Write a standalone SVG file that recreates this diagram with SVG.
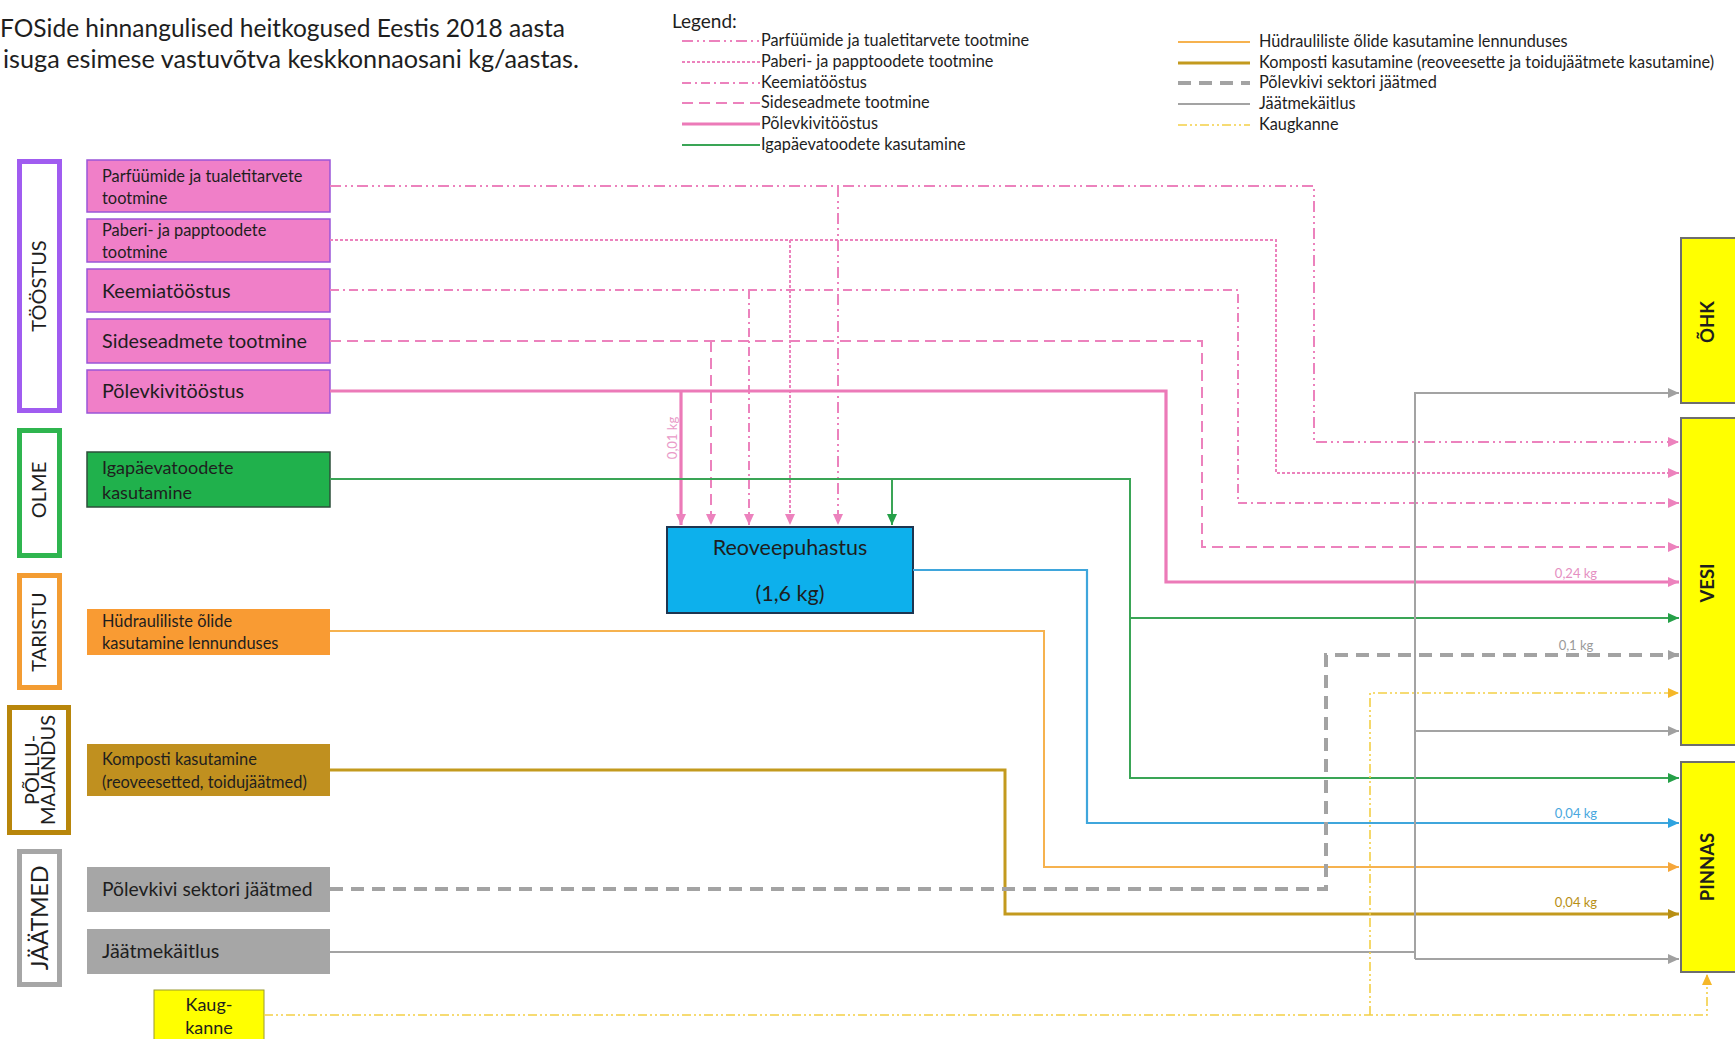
<svg xmlns="http://www.w3.org/2000/svg" width="1735" height="1039" viewBox="0 0 1735 1039">
  <style>
    text { font-family: Lato, "Liberation Sans", sans-serif; fill: #1e1e1e; }
    .title { font-size: 24.5px; }
    .leg { font-size: 16.3px; }
    .small { font-size: 16.4px; }
    .big { font-size: 19.8px; }
    .cat { font-size: 20px; text-anchor: middle; }
    .tgt { font-size: 18.5px; font-weight: bold; text-anchor: middle; }
    .val { font-size: 13px; text-anchor: middle; }
    .frame { fill: #ffffff; stroke-width: 5; }
    .ln { fill: none; }
    .pink { stroke: #ec82bd; stroke-width: 2; }
    .pinkthick { stroke: #ec7ab8; stroke-width: 3.2; }
    .d1 { stroke-dasharray: 11 4 2 4 2 4; }
    .d2 { stroke-dasharray: 3 2; }
    .d3 { stroke-dasharray: 9 4 2 4; }
    .d4 { stroke-dasharray: 11 6; }
    .green { stroke: #3aa556; stroke-width: 2; }
    .blue { stroke: #3fa6dc; stroke-width: 2.2; }
    .orange { stroke: #f6b24f; stroke-width: 2; }
    .gold { stroke: #c39a1e; stroke-width: 3; }
    .grayd { stroke: #a3a3a3; stroke-width: 4; stroke-dasharray: 13 8; }
    .gray { stroke: #a3a3a3; stroke-width: 2; }
    .yel { stroke: #f3cf45; stroke-width: 1.6; stroke-dasharray: 9 3 2 3 2 3; }
  </style>
  <defs>
    <marker id="aPink" markerUnits="userSpaceOnUse" markerWidth="11" markerHeight="10" refX="11" refY="5" orient="auto"><path d="M0,0 L11,5 L0,10 z" fill="#ec82bd"/></marker>
    <marker id="aGreen" markerUnits="userSpaceOnUse" markerWidth="11" markerHeight="10" refX="11" refY="5" orient="auto"><path d="M0,0 L11,5 L0,10 z" fill="#25a048"/></marker>
    <marker id="aBlue" markerUnits="userSpaceOnUse" markerWidth="11" markerHeight="10" refX="11" refY="5" orient="auto"><path d="M0,0 L11,5 L0,10 z" fill="#2ea3e0"/></marker>
    <marker id="aOrange" markerUnits="userSpaceOnUse" markerWidth="11" markerHeight="10" refX="11" refY="5" orient="auto"><path d="M0,0 L11,5 L0,10 z" fill="#f5a63a"/></marker>
    <marker id="aGold" markerUnits="userSpaceOnUse" markerWidth="11" markerHeight="10" refX="11" refY="5" orient="auto"><path d="M0,0 L11,5 L0,10 z" fill="#b88f14"/></marker>
    <marker id="aGray" markerUnits="userSpaceOnUse" markerWidth="11" markerHeight="10" refX="11" refY="5" orient="auto"><path d="M0,0 L11,5 L0,10 z" fill="#a0a0a0"/></marker>
    <marker id="aYel" markerUnits="userSpaceOnUse" markerWidth="11" markerHeight="10" refX="11" refY="5" orient="auto"><path d="M0,0 L11,5 L0,10 z" fill="#f5b728"/></marker>
  </defs>

  <rect width="1735" height="1039" fill="#ffffff"/>

  <!-- heading -->
  <text class="title" x="0" y="37" textLength="565" lengthAdjust="spacingAndGlyphs">FOSide hinnangulised heitkogused Eestis 2018 aasta</text>
  <text class="title" x="3" y="68" textLength="576" lengthAdjust="spacingAndGlyphs">isuga esimese vastuvõtva keskkonnaosani kg/aastas.</text>

  <!-- legend -->
  <g id="legend">
    <text x="672" y="28" style="font-size:19px">Legend:</text>
    <line class="ln pink d1" x1="682" y1="41" x2="760" y2="41"/>
    <text class="leg" x="761" y="46">Parfüümide ja tualetitarvete tootmine</text>
    <line class="ln pink d2" x1="682" y1="62" x2="760" y2="62"/>
    <text class="leg" x="761" y="67">Paberi- ja papptoodete tootmine</text>
    <line class="ln pink d3" x1="682" y1="83" x2="760" y2="83"/>
    <text class="leg" x="761" y="88">Keemiatööstus</text>
    <line class="ln pink d4" x1="682" y1="103" x2="760" y2="103"/>
    <text class="leg" x="761" y="108">Sideseadmete tootmine</text>
    <line class="ln pinkthick" x1="682" y1="124" x2="760" y2="124"/>
    <text class="leg" x="761" y="129">Põlevkivitööstus</text>
    <line class="ln green" x1="682" y1="145" x2="760" y2="145"/>
    <text class="leg" x="761" y="150">Igapäevatoodete kasutamine</text>

    <line class="ln orange" x1="1178" y1="42" x2="1250" y2="42"/>
    <text class="leg" x="1259" y="47">Hüdrauliliste õlide kasutamine lennunduses</text>
    <line class="ln gold" x1="1178" y1="63" x2="1250" y2="63"/>
    <text class="leg" x="1259" y="68">Komposti kasutamine (reoveesette ja toidujäätmete kasutamine)</text>
    <line class="ln grayd" x1="1178" y1="83" x2="1250" y2="83"/>
    <text class="leg" x="1259" y="88">Põlevkivi sektori jäätmed</text>
    <line class="ln gray" x1="1178" y1="104" x2="1250" y2="104"/>
    <text class="leg" x="1259" y="109">Jäätmekäitlus</text>
    <line class="ln yel" x1="1178" y1="125" x2="1250" y2="125"/>
    <text class="leg" x="1259" y="130">Kaugkanne</text>
  </g>

  <!-- sector frames -->
  <g id="cat-toostus">
    <rect class="frame" x="19.5" y="161.5" width="40" height="249" stroke="#a05cf0"/>
    <text class="cat" transform="translate(46,286) rotate(-90)">TÖÖSTUS</text>
  </g>
  <g id="cat-olme">
    <rect class="frame" x="19.5" y="430.5" width="40" height="125" stroke="#2fb54f"/>
    <text class="cat" transform="translate(46,490) rotate(-90)">OLME</text>
  </g>
  <g id="cat-taristu">
    <rect class="frame" x="19.5" y="575.5" width="40" height="112" stroke="#f39c32"/>
    <text class="cat" transform="translate(46,632) rotate(-90)">TARISTU</text>
  </g>
  <g id="cat-pollumajandus">
    <rect class="frame" x="9.5" y="707.5" width="59" height="125" stroke="#b8860b"/>
    <text class="cat" transform="translate(39,770) rotate(-90)">PÕLLU-</text>
    <text class="cat" transform="translate(55,770) rotate(-90)">MAJANDUS</text>
  </g>
  <g id="cat-jaatmed">
    <rect class="frame" x="19.5" y="851.5" width="40" height="133" stroke="#a6a6a6"/>
    <text class="cat" style="font-size:23px" transform="translate(48,918) rotate(-90)">JÄÄTMED</text>
  </g>

  <!-- source boxes -->
  <g id="src-parfuumid">
    <rect x="87" y="160" width="243" height="52" fill="#f07fc8" stroke="#9a55d8" stroke-width="1.5"/>
    <text class="small" x="102" y="182">Parfüümide ja tualetitarvete</text>
    <text class="small" x="102" y="204">tootmine</text>
  </g>
  <g id="src-paber">
    <rect x="87" y="219" width="243" height="43" fill="#f07fc8" stroke="#9a55d8" stroke-width="1.5"/>
    <text class="small" x="102" y="236">Paberi- ja papptoodete</text>
    <text class="small" x="102" y="258">tootmine</text>
  </g>
  <g id="src-keemia">
    <rect x="87" y="269" width="243" height="43" fill="#f07fc8" stroke="#9a55d8" stroke-width="1.5"/>
    <text class="big" x="102" y="298">Keemiatööstus</text>
  </g>
  <g id="src-sideseadmed">
    <rect x="87" y="319" width="243" height="44" fill="#f07fc8" stroke="#9a55d8" stroke-width="1.5"/>
    <text class="big" x="102" y="348">Sideseadmete tootmine</text>
  </g>
  <g id="src-polevkivi">
    <rect x="87" y="370" width="243" height="43" fill="#f07fc8" stroke="#9a55d8" stroke-width="1.5"/>
    <text class="big" x="102" y="398">Põlevkivitööstus</text>
  </g>
  <g id="src-igapaev">
    <rect x="87" y="452" width="243" height="55" fill="#20b14c" stroke="#2d4f3a" stroke-width="1.5"/>
    <text x="102" y="474" style="font-size:18px">Igapäevatoodete</text>
    <text x="102" y="499" style="font-size:18px">kasutamine</text>
  </g>
  <g id="src-hudraulika">
    <rect x="87" y="609" width="243" height="46" fill="#f99b33"/>
    <text class="small" x="102" y="627">Hüdrauliliste õlide</text>
    <text class="small" x="102" y="649">kasutamine lennunduses</text>
  </g>
  <g id="src-kompost">
    <rect x="87" y="744" width="243" height="52" fill="#c0901f"/>
    <text class="small" x="102" y="765">Komposti kasutamine</text>
    <text class="small" x="102" y="788">(reoveesetted, toidujäätmed)</text>
  </g>
  <g id="src-polevkivi-jaatmed">
    <rect x="87" y="867" width="243" height="45" fill="#a6a6a6"/>
    <text class="big" x="102" y="896" style="font-size:19.3px">Põlevkivi sektori jäätmed</text>
  </g>
  <g id="src-jaatmekaitlus">
    <rect x="87" y="929" width="243" height="45" fill="#a6a6a6"/>
    <text class="big" x="102" y="958">Jäätmekäitlus</text>
  </g>
  <g id="src-kaugkanne">
    <rect x="154" y="990" width="110" height="60" fill="#ffff00" stroke="#9a9a30" stroke-width="1"/>
    <text x="209" y="1011" style="font-size:18px;text-anchor:middle">Kaug-</text>
    <text x="209" y="1034" style="font-size:18px;text-anchor:middle">kanne</text>
  </g>

  <!-- wastewater treatment -->
  <g id="reoveepuhastus">
    <rect x="667" y="527" width="246" height="86" fill="#0db0ec" stroke="#1d3550" stroke-width="2"/>
    <text x="790" y="555" style="font-size:21.5px;text-anchor:middle">Reoveepuhastus</text>
    <text x="790" y="601" style="font-size:21.5px;text-anchor:middle">(1,6 kg)</text>
  </g>

  <!-- receiving compartments -->
  <g id="tgt-ohk">
    <rect x="1681" y="238" width="70" height="165" fill="#ffff00" stroke="#6e6e6e" stroke-width="2"/>
    <text class="tgt" transform="translate(1714,322) rotate(-90)">ÕHK</text>
  </g>
  <g id="tgt-vesi">
    <rect x="1681" y="418" width="70" height="327" fill="#ffff00" stroke="#6e6e6e" stroke-width="2"/>
    <text class="tgt" transform="translate(1714,583) rotate(-90)">VESI</text>
  </g>
  <g id="tgt-pinnas">
    <rect x="1681" y="762" width="70" height="210" fill="#ffff00" stroke="#6e6e6e" stroke-width="2"/>
    <text class="tgt" transform="translate(1714,867) rotate(-90)">PINNAS</text>
  </g>

  <!-- connectors -->
  <g id="connectors">
    <!-- perfumes and toiletries -->
    <path class="ln pink d1" d="M330,186 H1314 V442 H1679" marker-end="url(#aPink)"/>
    <path class="ln pink d1" d="M838,186 V525" marker-end="url(#aPink)"/>
    <!-- paper and cardboard -->
    <path class="ln pink d2" d="M330,240 H1276 V473 H1679" marker-end="url(#aPink)"/>
    <path class="ln pink d2" d="M790,240 V525" marker-end="url(#aPink)"/>
    <!-- chemical industry -->
    <path class="ln pink d3" d="M330,290 H1238 V503 H1679" marker-end="url(#aPink)"/>
    <path class="ln pink d3" d="M749,290 V525" marker-end="url(#aPink)"/>
    <!-- communication equipment -->
    <path class="ln pink d4" d="M330,341 H1202 V547 H1679" marker-end="url(#aPink)"/>
    <path class="ln pink d4" d="M711,341 V525" marker-end="url(#aPink)"/>
    <!-- oil shale industry -->
    <path class="ln pinkthick" d="M330,391 H1166 V582 H1679" marker-end="url(#aPink)"/>
    <path class="ln pinkthick" d="M681,391 V525" marker-end="url(#aPink)"/>
    <!-- everyday products -->
    <path class="ln green" d="M330,479 H1130 V778 H1679" marker-end="url(#aGreen)"/>
    <path class="ln green" d="M1130,618 H1679" marker-end="url(#aGreen)"/>
    <path class="ln green" d="M892,479 V525" marker-end="url(#aGreen)"/>
    <!-- treatment plant outflow -->
    <path class="ln blue" d="M913,570 H1087 V823 H1679" marker-end="url(#aBlue)"/>
    <!-- hydraulic oils -->
    <path class="ln orange" d="M330,631 H1044 V867 H1679" marker-end="url(#aOrange)"/>
    <!-- compost -->
    <path class="ln gold" d="M330,770 H1005 V914 H1679" marker-end="url(#aGold)"/>
    <!-- oil shale sector waste -->
    <path class="ln grayd" d="M330,889 H1326 V655 H1679" marker-end="url(#aGray)"/>
    <!-- waste handling -->
    <path class="ln gray" d="M330,952 H1415"/>
    <path class="ln gray" d="M1415,959 V393 H1679" marker-end="url(#aGray)"/>
    <path class="ln gray" d="M1415,731 H1679" marker-end="url(#aGray)"/>
    <path class="ln gray" d="M1415,959 H1679" marker-end="url(#aGray)"/>
    <!-- long-range transport -->
    <path class="ln yel" d="M264,1015 H1707 V974" marker-end="url(#aYel)"/>
    <path class="ln yel" d="M1370,1015 V693 H1679" marker-end="url(#aYel)"/>

    <!-- flow amounts -->
    <text class="val" transform="translate(677,438) rotate(-90)" style="fill:#e99ac8">0,01 kg</text>
    <text class="val" x="1576" y="578" style="fill:#e58fc2">0,24 kg</text>
    <text class="val" x="1576" y="650" style="fill:#9a9a9a">0,1 kg</text>
    <text class="val" x="1576" y="818" style="fill:#49a7de">0,04 kg</text>
    <text class="val" x="1576" y="907" style="fill:#b88f14">0,04 kg</text>
  </g>
</svg>
